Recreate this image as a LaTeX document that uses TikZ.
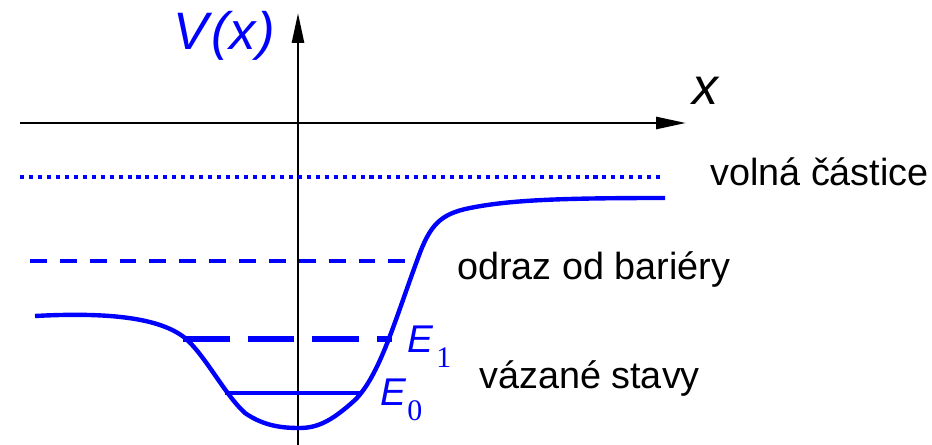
\documentclass[tikz,border=0pt]{standalone}
\usepackage{fontspec}
\setmainfont{Liberation Sans}
\newfontfamily\serifdig{Liberation Serif}
\usetikzlibrary{arrows.meta}
\definecolor{potblue}{RGB}{0,0,255}
\begin{document}
\begin{tikzpicture}[x=0.02cm,y=-0.02cm,
        axis/.style={line width=1.5pt,-{Triangle[length=17pt,width=6.8pt]}},
        lbl/.style={anchor=base west,inner sep=0pt,font=\fontsize{21.5}{24}\selectfont},
        elbl/.style={anchor=base west,inner sep=0pt,text=potblue,font=\fontsize{22}{24}\selectfont\itshape},
        sublbl/.style={anchor=base west,inner sep=0pt,text=potblue,font=\fontsize{17}{19}\selectfont\serifdig}]
        \useasboundingbox (0,0) rectangle (932,445);
        % --- osy ---
        \draw[axis] (20,123) -- (686,123);
        \draw[axis] (298,445) -- (298,13);
        \node[anchor=base west,inner sep=0pt,text=potblue,font=\fontsize{30}{32}\selectfont\itshape] (vx) at (173,50) {V\kern2pt(x\kern1pt)};
        \node[anchor=base west,inner sep=0pt,font=\fontsize{29.5}{32}\selectfont\itshape] (xlab) at (692,105) {x};
        % --- hladiny energie ---
        \draw[potblue,line width=2.3pt,dash pattern=on 2.3pt off 2.8pt] (20,177) -- (665,177);
        \draw[potblue,line width=2.3pt,dash pattern=on 9.6pt off 7.4pt] (30,261) -- (415,261);
        \draw[potblue,line width=3.4pt,dash pattern=on 26.6pt off 10.2pt] (183,339) -- (392,339);
        \draw[potblue,line width=2.8pt] (225,393) -- (362,393);
        % --- potencial V(x) ---
        \draw[potblue,line width=2.5pt] (35,316)
            .. controls (110,312) and (160,318) .. (185,338)
            .. controls (205,355) and (225,395) .. (245,413)
            .. controls (265,427) and (285,428) .. (300,428)
            .. controls (320,428) and (335,418) .. (355,400)
            .. controls (380,375) and (395,320) .. (418,258)
            .. controls (430,225) and (440,214) .. (470,208)
            .. controls (510,200) and (560,198) .. (665,198);
        % --- popisky ---
        \node[elbl] (e1) at (407,353) {E};
        \node[sublbl] (e1sub) at (436,368) {1};
        \node[elbl] (e0) at (380,405) {E};
        \node[sublbl] (e0sub) at (407,420) {0};
        \node[lbl] (volna) at (710,186) {volná částice};
        \node[lbl] (odraz) at (457,280) {odraz od bariéry};
        \node[lbl] (vazane) at (479,388) {vázané stavy};
    \end{tikzpicture}
\end{document}
